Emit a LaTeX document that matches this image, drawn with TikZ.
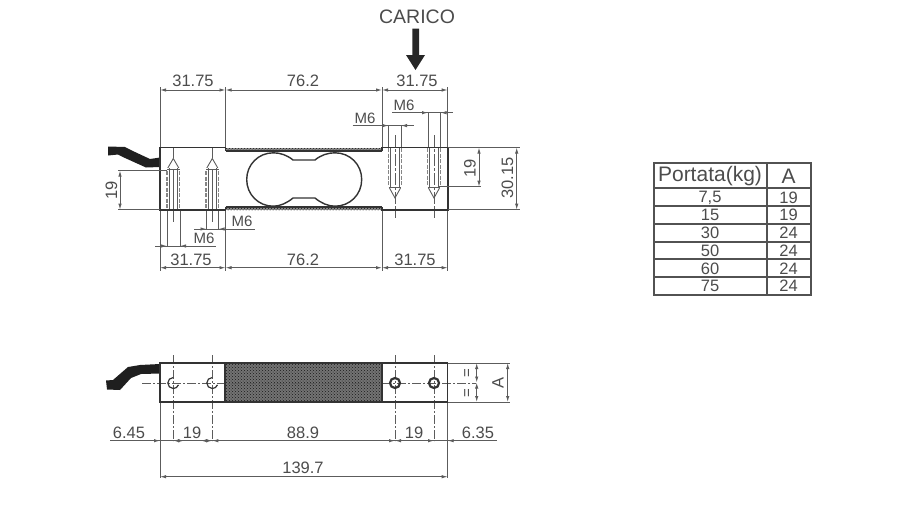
\documentclass[tikz,border=0pt]{standalone}
\usepackage{fontspec}
\setmainfont{Liberation Sans}
\usetikzlibrary{arrows.meta,patterns}
\definecolor{ink}{gray}{0.2}
\definecolor{dimink}{gray}{0.36}
\definecolor{txt}{gray}{0.3}
\tikzset{
 outlineink/.style={draw=ink,line width=1.7pt},
 ext/.style={draw=dimink,line width=0.9pt},
 dimline/.style={draw=dimink,line width=0.9pt},
 dimboth/.style={dimline,{Latex[length=6pt,width=3.4pt]}-{Latex[length=6pt,width=3.4pt]}},
 dimend/.style={dimline,-{Latex[length=6pt,width=3.4pt]}},
 centre/.style={draw=dimink,line width=0.8pt,dash pattern=on 9pt off 2pt on 2pt off 2pt},
 thread/.style={draw=dimink!75,line width=1.1pt,dash pattern=on 4pt off 1.5pt},
 bore/.style={draw=dimink,line width=0.9pt},
 lab/.style={text=txt,inner sep=0pt,font=\fontsize{16.5}{16.5}\selectfont},
 labsmall/.style={text=txt,inner sep=0pt,font=\fontsize{15}{15}\selectfont},
 tabline/.style={draw=ink!85,line width=1.7pt},
 cell/.style={text=txt,inner sep=0pt,font=\fontsize{16.5}{16.5}\selectfont},
}
\begin{document}
\begin{tikzpicture}[x=1pt,y=-1pt]
\useasboundingbox (0,0) rectangle (915,504);
% ===== load arrow
\node[text=txt,inner sep=0pt,font=\fontsize{19.5}{19.5}\selectfont] (carico) at (417,17) {CARICO};
\fill[black!85] (412.3,28.5) -- (419,28.5) -- (419,55) -- (425,55) -- (415.5,70) -- (406,55) -- (412.3,55) -- cycle;
% ===== top view: extension lines
\foreach \x in {160,225.5,382,447.7}{
  \draw[ext] (\x,87) -- (\x,148);
  \draw[ext] (\x,210) -- (\x,271);
}
% top dims
\draw[dimboth] (160,90) -- (225.5,90);
\draw[dimboth] (225.5,90) -- (382,90);
\draw[dimboth] (382,90) -- (447.7,90);
\node[lab] (t1) at (193,81) {31.75};
\node[lab] (t2) at (303,81) {76.2};
\node[lab] (t3) at (417,81) {31.75};
% bottom dims
\draw[dimboth] (160,267.7) -- (225.5,267.7);
\draw[dimboth] (225.5,267.7) -- (382,267.7);
\draw[dimboth] (382,267.7) -- (447.7,267.7);
\node[lab] (b1) at (191,259.5) {31.75};
\node[lab] (b2) at (303,259.5) {76.2};
\node[lab] (b3) at (415,259.5) {31.75};
% ===== top view: cable
\fill[black!88] (108,146.5) -- (125,147) -- (135,152) -- (150,159) -- (160,157.5) -- (160,167) -- (146,167.5) -- (125,158) -- (118,154.5) -- (108,155.5) -- cycle;
% ===== top view: threaded holes
\foreach \x in {395,434}{
  \draw[thread] (\x-6.3,148) -- (\x-6.3,186);
  \draw[thread] (\x+6.3,148) -- (\x+6.3,186);
  \draw[bore] (\x-4.3,148) -- (\x-4.3,188);
  \draw[bore] (\x+4.3,148) -- (\x+4.3,188);
  \draw[bore] (\x-6.3,187.5) -- (\x+6.3,187.5);
  \draw[bore] (\x-5.5,188) -- (\x,198) -- (\x+5.5,188);
  \draw[ext,dash pattern=on 12pt off 2pt on 3pt off 2pt] (\x,135) -- (\x,217.5);
}
\foreach \x in {173.3,212.3}{
  \draw[thread] (\x-6.3,171) -- (\x-6.3,209);
  \draw[thread] (\x+6.3,171) -- (\x+6.3,209);
  \draw[bore] (\x-4.3,168) -- (\x-4.3,209);
  \draw[bore] (\x+4.3,168) -- (\x+4.3,209);
  \draw[bore] (\x-6.3,169) -- (\x+6.3,169);
  \draw[bore] (\x-5.5,168) -- (\x,158.5) -- (\x+5.5,168);
  \draw[ext] (\x,148) -- (\x,158);
  \draw[ext] (\x,170) -- (\x,222);
}
% M6 leaders, upper right
\draw[ext] (428,112.7) -- (428,148);
\draw[ext] (440.5,112.7) -- (440.5,148);
\draw[dimline] (392,112.7) -- (452.7,112.7);
\draw[dimend] (417,112.7) -- (428,112.7);
\draw[dimend] (450,112.7) -- (440.5,112.7);
\node[labsmall] (m1) at (404,105) {M6};
\draw[ext] (388.5,125.6) -- (388.5,148);
\draw[ext] (401,125.6) -- (401,148);
\draw[dimline] (352.5,125.6) -- (414,125.6);
\draw[dimend] (379,125.6) -- (388.5,125.6);
\draw[dimend] (411,125.6) -- (401,125.6);
\node[labsmall] (m2) at (365,118) {M6};
% M6 leaders, lower left
\draw[ext] (167,210) -- (167,247);
\draw[ext] (180,210) -- (180,247);
\draw[dimline] (155,246) -- (216,246);
\draw[dimend] (157,246) -- (167,246);
\draw[dimend] (189,246) -- (180,246);
\node[labsmall] (m3) at (204,238) {M6};
\draw[ext] (206.5,210) -- (206.5,230);
\draw[ext] (218.5,210) -- (218.5,230);
\draw[dimline] (194,229) -- (255,229);
\draw[dimend] (197,229) -- (206.5,229);
\draw[dimend] (228,229) -- (218.5,229);
\node[labsmall] (m4) at (242,221) {M6};
% ===== top view: recess strips
\fill[black!45] (225.5,148) rectangle (382,151);
\fill[black!45] (225.5,207) rectangle (382,210);
\fill[pattern=crosshatch dots,pattern color=black!90] (225.5,148) rectangle (382,151);
\fill[pattern=crosshatch dots,pattern color=black!90] (225.5,207) rectangle (382,210);
\draw[draw=ink,line width=1.3pt] (225.5,207) -- (382,207);
\draw[draw=ink,line width=1.3pt] (225.5,151) -- (382,151);
% body outline, in two parts
\draw[outlineink] (225.5,151) -- (225.5,147.5) -- (160,147.5) -- (160,209.7) -- (225.5,209.7) -- (225.5,207);
\draw[outlineink] (382,151) -- (382,147.5) -- (447.7,147.5) -- (447.7,209.7) -- (382,209.7) -- (382,207);
% cut-out
\fill[white,draw=ink,line width=1.4pt]
  (293,160) -- (315,160)
  .. controls (321,155) and (328,152.8) .. (335,152.8)
  .. controls (350,152.8) and (361.7,164.5) .. (361.7,179.5)
  .. controls (361.7,194.5) and (350,206.2) .. (335,206.2)
  .. controls (328,206.2) and (321,203) .. (315,198)
  -- (293,198)
  .. controls (287,203) and (280,206.2) .. (273.3,206.2)
  .. controls (258.5,206.2) and (246.7,194.5) .. (246.7,179.5)
  .. controls (246.7,164.5) and (258.5,152.8) .. (273.3,152.8)
  .. controls (280,152.8) and (287,155) .. (293,160) -- cycle;
% left dim 19
\draw[ext] (118,170.5) -- (167,170.5);
\draw[ext] (118,209.7) -- (160,209.7);
\draw[dimboth] (120,170.5) -- (120,209.7);
\node[lab,rotate=90] (d19l) at (111.5,190) {19};
% right dim 19, 30.15
\draw[ext] (438,186.7) -- (481,186.7);
\draw[ext] (447.7,147.5) -- (520,147.5);
\draw[ext] (447.7,209.7) -- (520,209.7);
\draw[dimboth] (479,147.5) -- (479,186.7);
\node[lab,rotate=90] (d19r) at (470,168) {19};
\draw[dimboth] (516.7,147.5) -- (516.7,209.7);
\node[lab,rotate=90] (d30) at (507.5,178) {30.15};
% ===== bottom view
\fill[black!88] (106,380.5) -- (113,380) -- (128,367) -- (140,365) -- (160,364) -- (160,373.5) -- (141,374) -- (131,378) -- (120,390) -- (107,389.5) -- cycle;
\fill[black!55] (225,363) rectangle (382,402);
\fill[pattern=crosshatch dots,pattern color=black!90] (225,363) rectangle (382,402);
\draw[centre] (142,383) -- (476,383);
\foreach \x in {173.3,212.3,395,434}{
  \draw[centre] (\x,355) -- (\x,441);
}
\draw[ext] (160,402) -- (160,478);
\draw[ext] (447.7,402) -- (447.7,478);
\draw[draw=ink,line width=1.4pt] (160,363) rectangle (447.7,402);
\draw[draw=ink,line width=1.2pt] (225,363) -- (225,402) (382,363) -- (382,402);
\foreach \x in {173.3,212.3}{
  \draw[draw=ink,line width=1.2pt] (\x,377.5) arc (-90:-340:5.5);
}
\foreach \x in {395,434}{
  \draw[draw=ink,line width=2.2pt] (\x,383) circle (5);
}
\draw[ext] (447.7,363) -- (510,363);
\draw[ext] (447.7,402) -- (510,402);
\draw[dimboth] (476.7,363) -- (476.7,382.5);
\draw[dimboth] (476.7,382.5) -- (476.7,402);
\draw[dimboth] (507.7,363) -- (507.7,402);
\node[labsmall,rotate=90] (e1) at (468,373) {=};
\node[labsmall,rotate=90] (e2) at (468,393) {=};
\node[lab,rotate=90] (da) at (498,382.5) {A};
% horizontal chain
\draw[dimline] (110,440.7) -- (496.7,440.7);
\draw[dimend] (148,440.7) -- (160,440.7);
\draw[dimboth] (173.3,440.7) -- (184,440.7);
\draw[dimboth] (201,440.7) -- (212.3,440.7);
\draw[dimend] (225,440.7) -- (212.3,440.7);
\draw[dimend] (384,440.7) -- (395,440.7);
\draw[dimend] (406,440.7) -- (395,440.7);
\draw[dimend] (423,440.7) -- (434,440.7);
\draw[dimend] (460,440.7) -- (447.7,440.7);
\node[lab] (c1) at (129,432.5) {6.45};
\node[lab] (c2) at (192,432.5) {19};
\node[lab] (c3) at (303,432.5) {88.9};
\node[lab] (c4) at (414,432.5) {19};
\node[lab] (c5) at (478,432.5) {6.35};
\draw[dimboth] (160,476.7) -- (447.7,476.7);
\node[lab] (c6) at (303,468) {139.7};
% ===== table
\draw[tabline] (654.3,162.7) rectangle (810.7,295);
\draw[tabline] (766.7,162.7) -- (766.7,295);
\foreach \y in {188.3,206,224,241.7,259.3,277.3}{
  \draw[tabline] (654.3,\y) -- (810.7,\y);
}
\node[text=txt,inner sep=0pt,font=\fontsize{21}{21}\selectfont] (h1) at (710,176) {Portata(kg)};
\node[text=txt,inner sep=0pt,font=\fontsize{21}{21}\selectfont] (h2) at (788.5,176) {A};
\foreach \n/\yy/\p/\a in {1/197.5/{7,5}/19,2/215/15/19,3/233/30/24,4/250.5/50/24,5/268.5/60/24,6/286/75/24}{
  \node[cell] (p\n) at (710,\yy) {\p};
  \node[cell] (a\n) at (788.5,\yy) {\a};
}
\end{tikzpicture}
\end{document}
